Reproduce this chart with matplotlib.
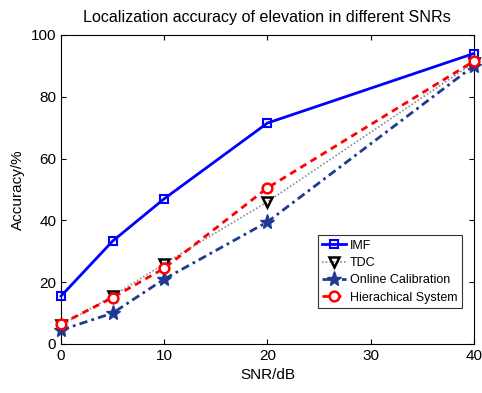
import numpy as np
import matplotlib
matplotlib.use('Agg')
import matplotlib.pyplot as plt

snr = [0, 5, 10, 20, 40]
imf = [15.5, 33.3, 47.0, 71.5, 94.0]
tdc = [6.0, 15.5, 26.0, 46.0, 91.0]
online = [4.5, 10.0, 21.0, 39.5, 90.0]
hier = [6.5, 15.0, 24.5, 50.5, 91.5]

plt.rcParams['font.family'] = ['Liberation Sans', 'DejaVu Sans']
plt.rcParams['font.size'] = 11

fig = plt.figure(figsize=(4.82, 3.93), dpi=100)
ax = fig.add_axes([0.1266, 0.1247, 0.8564, 0.7863])

ax.plot(snr, imf, '-', color='#0000ff', lw=2, marker='s', ms=6, mfc='none', mew=1.5,
        label='IMF', clip_on=False, zorder=3)
ax.plot(snr, tdc, color='#8c8c8c', lw=1.2, dashes=(1, 1.2), marker='v', ms=7, mfc='none',
        mec='black', mew=1.8, label='TDC', clip_on=False, zorder=3)
ax.plot(snr, online, color='#1f3a93', lw=2, dashes=(3, 1.5, 1, 1.5), marker='*', ms=11,
        mfc='#1f3a93', mec='#1f3a93', label='Online Calibration', clip_on=False, zorder=3)
ax.plot(snr, hier, color='#ff0000', lw=2, dashes=(2.5, 1.8), marker='o', ms=7, mfc='white',
        mew=1.8, label='Hierachical System', clip_on=False, zorder=4)

ax.set_xlim(0, 40)
ax.set_ylim(0, 100)
ax.set_xticks([0, 10, 20, 30, 40])
ax.set_yticks([0, 20, 40, 60, 80, 100])
ax.tick_params(direction='in', top=True, right=True, labelsize=11)
ax.set_xlabel('SNR/dB')
ax.set_ylabel('Accuracy/%')
ax.set_title('Localization accuracy of elevation in different SNRs', fontsize=11.6, pad=9)

leg = ax.legend(loc='lower right', bbox_to_anchor=(0.971, 0.1165), fancybox=False,
                edgecolor='black', fontsize=9, handlelength=1.9, borderpad=0.35,
                labelspacing=0.42, handletextpad=0.3, borderaxespad=0)
leg.get_frame().set_linewidth(0.8)

plt.savefig('out.png', dpi=100)
